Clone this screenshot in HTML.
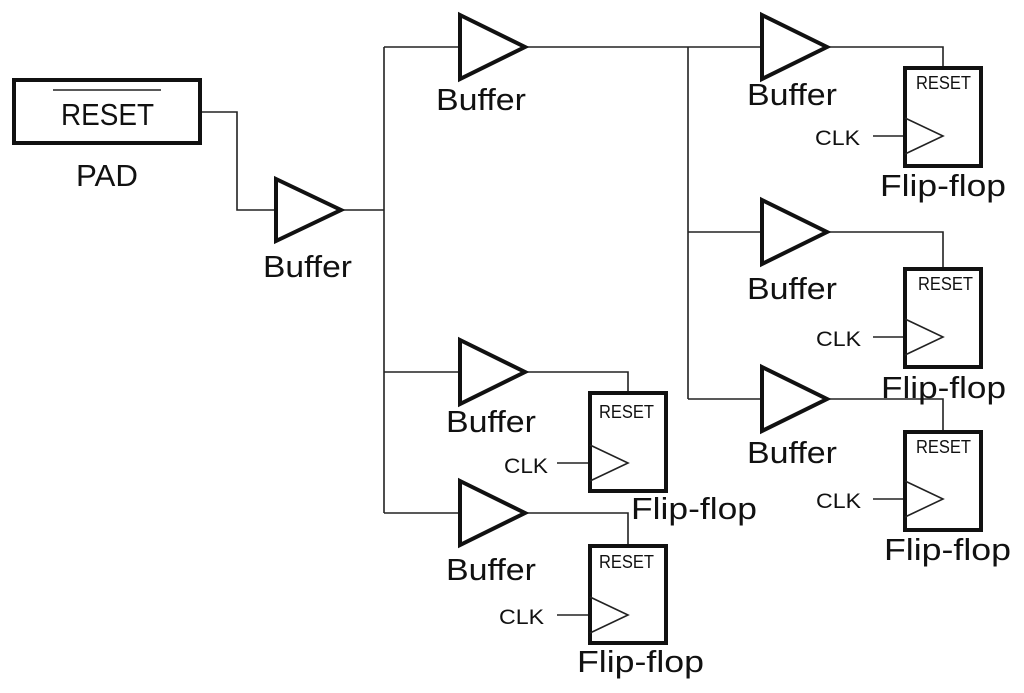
<!DOCTYPE html>
<html><head><meta charset="utf-8"><style>
html,body{margin:0;padding:0;background:#fff;}
svg{display:block;}
text{font-family:"Liberation Sans","DejaVu Sans",sans-serif;fill:#111;}
.b{font-size:31px;}
.s{font-size:21px;}
.r{font-size:18px;}
</style></head><body>
<svg width="1024" height="693" viewBox="0 0 1024 693" xmlns="http://www.w3.org/2000/svg">
<g fill="none" stroke="#222" stroke-width="1.6">
<polyline points="200,112 237,112 237,210 275,210"/>
<polyline points="341,210 384,210"/>
<line x1="384" y1="47" x2="384" y2="513"/>
<line x1="384" y1="47" x2="460" y2="47"/>
<line x1="384" y1="372" x2="460" y2="372"/>
<line x1="384" y1="513" x2="460" y2="513"/>
<polyline points="525,47 943,47 943,68"/>
<line x1="688" y1="47" x2="688" y2="399"/>
<line x1="688" y1="232" x2="761" y2="232"/>
<line x1="688" y1="399" x2="761" y2="399"/>
<polyline points="827,232 943,232 943,269"/>
<polyline points="827,399 943,399 943,432"/>
<polyline points="525,372 628,372 628,393"/>
<polyline points="525,513 628,513 628,546"/>
<line x1="873" y1="136" x2="905" y2="136"/>
<line x1="873" y1="337" x2="905" y2="337"/>
<line x1="873" y1="499" x2="905" y2="499"/>
<line x1="557" y1="463" x2="590" y2="463"/>
<line x1="557" y1="615" x2="590" y2="615"/>
</g>
<g fill="#fff" stroke="#111" stroke-width="4" stroke-linejoin="miter">
<rect x="14" y="80" width="186" height="63"/>
<polygon points="276,179 341,210 276,241"/>
<polygon points="460,15 525,47 460,79"/>
<polygon points="460,340 525,372 460,404"/>
<polygon points="460,481 525,513 460,545"/>
<polygon points="762,15 827,47 762,79"/>
<polygon points="762,200 827,232 762,264"/>
<polygon points="762,367 827,399 762,431"/>
</g>
<line x1="53" y1="90" x2="161" y2="90" stroke="#222" stroke-width="1.6"/>
<g fill="none" stroke="#111" stroke-width="4">
<rect x="905" y="68" width="76" height="98"/>
<rect x="905" y="269" width="76" height="98"/>
<rect x="905" y="432" width="76" height="98"/>
<rect x="590" y="393" width="76" height="98"/>
<rect x="590" y="546" width="76" height="97"/>
</g>
<g fill="none" stroke="#222" stroke-width="1.6">
<polyline points="905,118 943,136 905,154"/>
<polyline points="905,319 943,337 905,355"/>
<polyline points="905,481 943,499 905,517"/>
<polyline points="590,445 628,463 590,481"/>
<polyline points="590,597 628,615 590,633"/>
</g>
<text class="b" x="61" y="125" textLength="93" lengthAdjust="spacingAndGlyphs">RESET</text>
<text class="b" x="76" y="186" textLength="62" lengthAdjust="spacingAndGlyphs">PAD</text>
<text class="b" x="263" y="277" textLength="89" lengthAdjust="spacingAndGlyphs">Buffer</text>
<text class="b" x="436" y="110" textLength="90" lengthAdjust="spacingAndGlyphs">Buffer</text>
<text class="b" x="747" y="105" textLength="90" lengthAdjust="spacingAndGlyphs">Buffer</text>
<text class="b" x="747" y="299" textLength="90" lengthAdjust="spacingAndGlyphs">Buffer</text>
<text class="b" x="747" y="463" textLength="90" lengthAdjust="spacingAndGlyphs">Buffer</text>
<text class="b" x="446" y="432" textLength="90" lengthAdjust="spacingAndGlyphs">Buffer</text>
<text class="b" x="446" y="580" textLength="90" lengthAdjust="spacingAndGlyphs">Buffer</text>
<text class="b" x="880" y="196" textLength="126" lengthAdjust="spacingAndGlyphs">Flip-flop</text>
<text class="b" x="881" y="398" textLength="125" lengthAdjust="spacingAndGlyphs">Flip-flop</text>
<text class="b" x="884" y="560" textLength="127" lengthAdjust="spacingAndGlyphs">Flip-flop</text>
<text class="b" x="631" y="519" textLength="126" lengthAdjust="spacingAndGlyphs">Flip-flop</text>
<text class="b" x="577" y="672" textLength="127" lengthAdjust="spacingAndGlyphs">Flip-flop</text>
<text class="r" x="916" y="89" textLength="55" lengthAdjust="spacingAndGlyphs">RESET</text>
<text class="r" x="918" y="290" textLength="55" lengthAdjust="spacingAndGlyphs">RESET</text>
<text class="r" x="916" y="453" textLength="55" lengthAdjust="spacingAndGlyphs">RESET</text>
<text class="r" x="599" y="418" textLength="55" lengthAdjust="spacingAndGlyphs">RESET</text>
<text class="r" x="599" y="568" textLength="55" lengthAdjust="spacingAndGlyphs">RESET</text>
<text class="s" x="815" y="145" textLength="45" lengthAdjust="spacingAndGlyphs">CLK</text>
<text class="s" x="816" y="346" textLength="45" lengthAdjust="spacingAndGlyphs">CLK</text>
<text class="s" x="816" y="508" textLength="45" lengthAdjust="spacingAndGlyphs">CLK</text>
<text class="s" x="504" y="473" textLength="44" lengthAdjust="spacingAndGlyphs">CLK</text>
<text class="s" x="499" y="624" textLength="45" lengthAdjust="spacingAndGlyphs">CLK</text>
</svg>
</body></html>
